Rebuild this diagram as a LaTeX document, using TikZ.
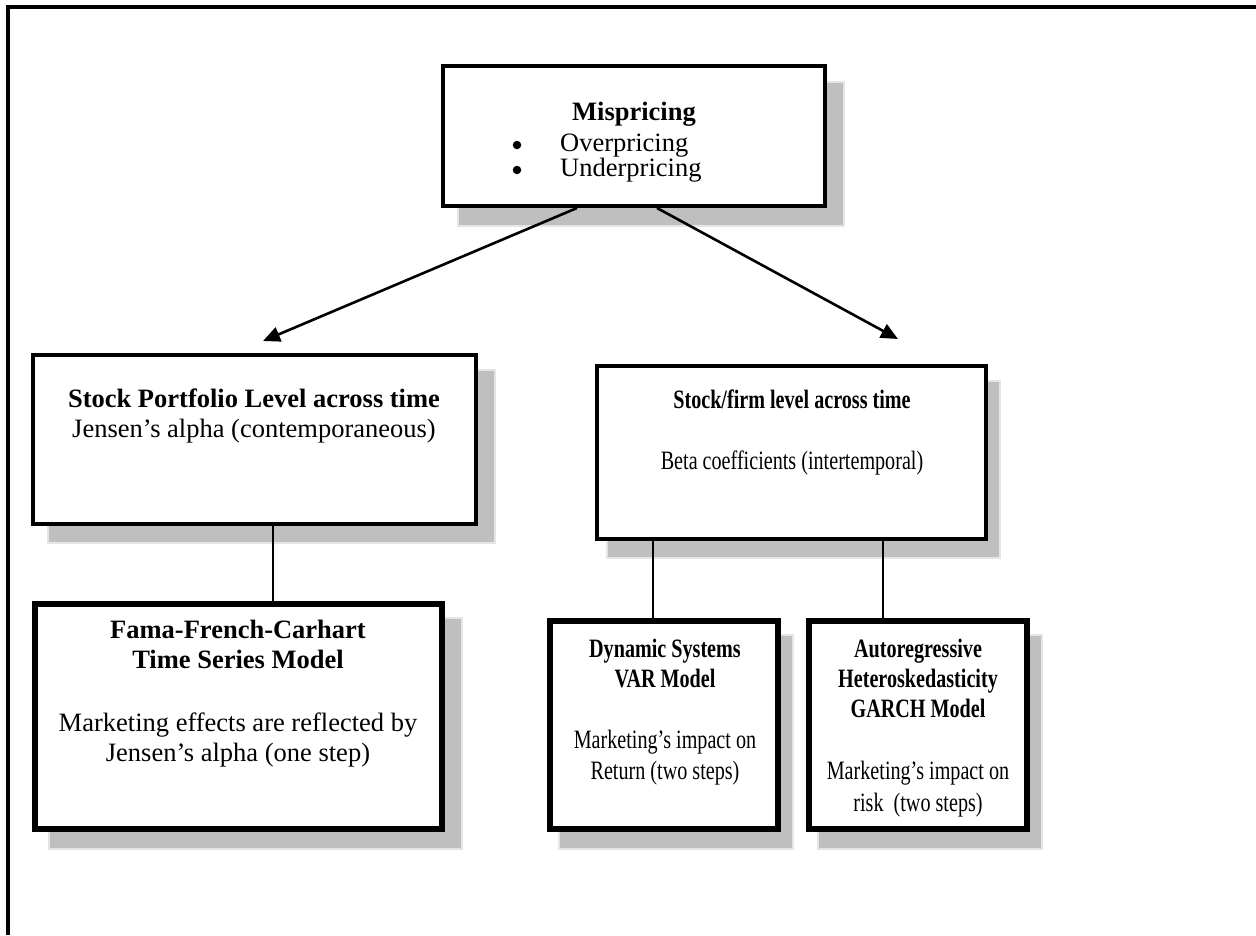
\documentclass[tikz,border=0pt]{standalone}
\usepackage{fontspec}
\setmainfont{Liberation Serif}
\usepackage{graphicx}
\usetikzlibrary{arrows.meta}
\pgfdeclarelayer{background}
\pgfsetlayers{background,main}
\newcommand{\cmpx}[1]{\scalebox{0.76}[1]{#1}}
\begin{document}
\begin{tikzpicture}[x=1pt,y=-1pt,
  box/.style={draw=black, fill=white, line width=4pt, inner sep=0pt, rectangle},
  thickbox/.style={box, line width=6pt},
  shade/.style={fill=black!25, draw=black!10, line width=1.5pt},
  txt/.style={anchor=base, inner sep=0pt, font=\fontsize{26.5}{30}\selectfont},
  dot/.style={circle, fill=black, inner sep=0pt, minimum size=8.5pt},
  conn/.style={draw=black, line width=1.5pt},
  arr/.style={draw=black, line width=2.6pt, -{Triangle[length=17pt,width=15pt]}},
  frame/.style={draw=black, line width=4pt}]
\useasboundingbox (0,0) rectangle (1256,935);
\draw[frame] (8,935) -- (8,7) -- (1256,7);

% boxes
\node[box, minimum width=382pt, minimum height=140pt] (top) at (634,136) {};
\node[box, minimum width=443pt, minimum height=169pt] (ptf) at (254.5,439.5) {};
\node[box, minimum width=389pt, minimum height=173pt] (firm) at (791.5,452.5) {};
\node[thickbox, minimum width=407pt, minimum height=225pt] (ffc) at (238.5,716.5) {};
\node[thickbox, minimum width=228pt, minimum height=208pt] (var) at (664,725) {};
\node[thickbox, minimum width=218pt, minimum height=208pt] (garch) at (918,725) {};

% shadows
\begin{pgfonlayer}{background}
\foreach \n/\dx/\dy in {top/17/18, ptf/17/17, ffc/17/17, firm/12/17, var/12/17, garch/12/17}{
  \path[shade] ([shift={(\dx,\dy)}]\n.south west) rectangle ([shift={(\dx,\dy)}]\n.north east);
}
\end{pgfonlayer}

% texts
\node[txt] (t1) at (634,120.7) {\bfseries Mispricing};
\node[dot] (b1) at (517,145) {};
\node[txt, anchor=base west] (t2) at (560,151.7) {Overpricing};
\node[dot] (b2) at (517,170) {};
\node[txt, anchor=base west] (t3) at (560,176.7) {Underpricing};

\node[txt] (p1) at (254,407) {\bfseries Stock Portfolio Level across time};
\node[txt] (p2) at (254,437) {Jensen's alpha (contemporaneous)};

\node[txt] (f1) at (792,408) {\cmpx{\bfseries Stock/firm level across time}};
\node[txt] (f2) at (792,469) {\cmpx{Beta coefficients (intertemporal)}};

\node[txt] (q1) at (238,638) {\bfseries Fama-French-Carhart};
\node[txt] (q2) at (238,668) {\bfseries Time Series Model};
\node[txt] (q3) at (238,731) {Marketing effects are reflected by};
\node[txt] (q4) at (238,761) {Jensen's alpha (one step)};

\node[txt] (v1) at (665,657) {\cmpx{\bfseries Dynamic Systems}};
\node[txt] (v2) at (665,687) {\cmpx{\bfseries VAR Model}};
\node[txt] (v3) at (665,748) {\cmpx{Marketing's impact on}};
\node[txt] (v4) at (665,779) {\cmpx{Return (two steps)}};

\node[txt] (g1) at (918,657) {\cmpx{\bfseries Autoregressive}};
\node[txt] (g2) at (918,687) {\cmpx{\bfseries Heteroskedasticity}};
\node[txt] (g3) at (918,717) {\cmpx{\bfseries GARCH Model}};
\node[txt] (g4) at (918,779) {\cmpx{Marketing's impact on}};
\node[txt] (g5) at (918,811) {\cmpx{risk\ \ (two steps)}};

% connectors
\coordinate (tipL) at (263,341);
\coordinate (tipR) at (898,339);
\draw[arr] ([xshift=-57pt]top.south) -- (tipL);
\draw[arr] ([xshift=23pt]top.south) -- (tipR);

\coordinate (c1) at ([xshift=18.5pt]ptf.south);
\draw[conn] (c1) -- (c1 |- ffc.north);
\coordinate (c2) at ([xshift=-11pt]var.north);
\draw[conn] (c2 |- firm.south) -- (c2);
\coordinate (c3) at ([xshift=-35pt]garch.north);
\draw[conn] (c3 |- firm.south) -- (c3);
\end{tikzpicture}
\end{document}
